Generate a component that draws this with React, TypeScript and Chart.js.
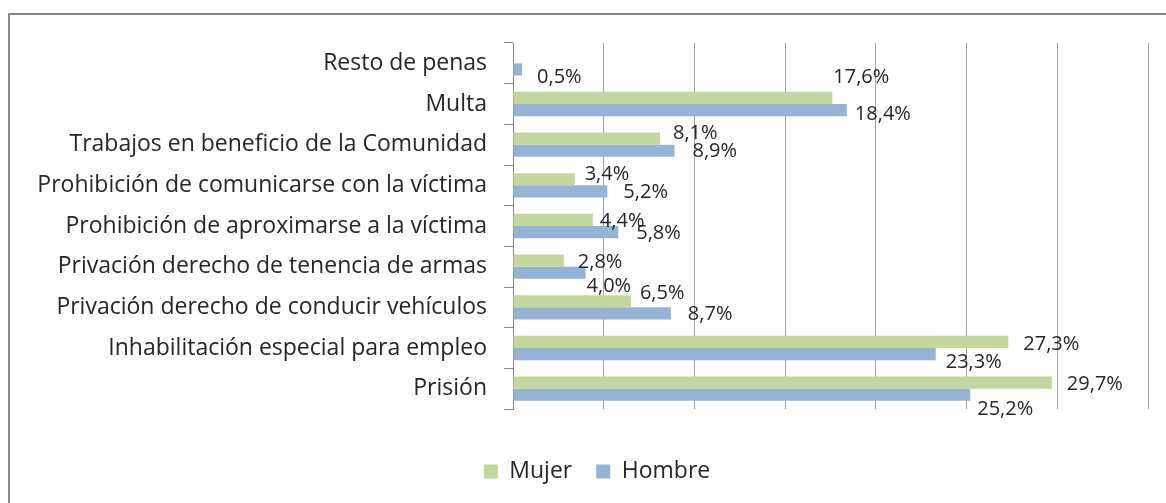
import React, { useEffect, useRef } from "react";
import { Chart, registerables } from "chart.js";

Chart.register(...registerables);

// Tipos de pena impuestos, porcentaje por sexo
const categories = [
  "Resto de penas",
  "Multa",
  "Trabajos en beneficio de la Comunidad",
  "Prohibición de comunicarse con la víctima",
  "Prohibición de aproximarse a la víctima",
  "Privación derecho de tenencia de armas",
  "Privación derecho de conducir vehículos",
  "Inhabilitación especial para empleo",
  "Prisión",
];

const mujer: (number | null)[] = [null, 17.6, 8.1, 3.4, 4.4, 2.8, 6.5, 27.3, 29.7];
const hombre: (number | null)[] = [0.5, 18.4, 8.9, 5.2, 5.8, 4.0, 8.7, 23.3, 25.2];

const seriesNames = ["Mujer", "Hombre"];
const xTicks = [0, 5, 10, 15, 20, 25, 30, 35];

// Desplazamientos [dx, dy] de cada etiqueta respecto al extremo de su barra
const labelNudgeMujer: [number, number][] = [
  [0, 0], [1, -21], [13, -5], [10, -5], [7, 1], [14, 2], [9, -8], [15, 2], [15, 2],
];
const labelNudgeHombre: [number, number][] = [
  [15, 8], [8, 4], [18, 1], [16, 1], [18, 1], [1, 14], [17, 1], [10, 8], [7, 15],
];

const FONT = "'Open Sans', 'Noto Sans', sans-serif";
const TEXT = "#262626";
const AXIS_X = 513;
const LEGEND_SHIFT = 23;

const fmt = (v: number) => v.toFixed(1).replace(".", ",") + "%";

// Etiquetas de valor junto al extremo de cada barra
const valueLabels = {
  id: "valueLabels",
  afterDatasetsDraw(chart: any) {
    const { ctx } = chart;
    ctx.save();
    ctx.font = `20px ${FONT}`;
    ctx.fillStyle = TEXT;
    ctx.textAlign = "left";
    ctx.textBaseline = "middle";
    chart.data.datasets.forEach((ds: any, di: number) => {
      const meta = chart.getDatasetMeta(di);
      const nudges = di === 0 ? labelNudgeMujer : labelNudgeHombre;
      meta.data.forEach((bar: any, i: number) => {
        const v = ds.data[i];
        if (v === null || v === undefined) return;
        const [dx, dy] = nudges[i];
        ctx.fillText(fmt(v), bar.x + dx, bar.y + dy);
      });
    });
    ctx.restore();
  },
};

// Centra la leyenda algo más a la derecha, bajo el área de barras
const legendShift = {
  id: "legendShift",
  afterLayout(chart: any) {
    const lg = chart.legend;
    if (lg) {
      lg.left += LEGEND_SHIFT;
      lg.right += LEGEND_SHIFT;
    }
  },
};

export default function App() {
  const ref = useRef<HTMLCanvasElement | null>(null);

  useEffect(() => {
    if (!ref.current) return;
    const chart = new Chart(ref.current, {
      type: "bar",
      data: {
        labels: categories,
        datasets: [
          {
            label: seriesNames[0],
            data: mujer,
            backgroundColor: "#C3D69B",
            categoryPercentage: 0.6,
            barPercentage: 1.0,
          },
          {
            label: seriesNames[1],
            data: hombre,
            backgroundColor: "#95B3D7",
            categoryPercentage: 0.6,
            barPercentage: 1.0,
          },
        ],
      },
      options: {
        indexAxis: "y",
        animation: false,
        responsive: false,
        maintainAspectRatio: false,
        layout: { padding: { top: 43, right: 18, left: 0, bottom: 10 } },
        scales: {
          x: {
            type: "linear",
            min: 0,
            max: 35,
            afterBuildTicks: (scale: any) => {
              scale.ticks = xTicks.map((v) => ({ value: v }));
            },
            afterFit: (scale: any) => {
              scale.height = 27;
            },
            ticks: { display: false },
            grid: { color: "#A0A0A0", lineWidth: 1, drawTicks: false },
            border: { display: false },
          },
          y: {
            afterFit: (scale: any) => {
              scale.width = AXIS_X;
            },
            ticks: {
              font: { family: FONT, size: 23 },
              color: TEXT,
              padding: 17,
              autoSkip: false,
            },
            grid: {
              drawOnChartArea: false,
              drawTicks: true,
              tickLength: 9,
              color: "#868686",
              offset: true,
            },
            border: { display: true, color: "#868686", width: 1 },
          },
        },
        plugins: {
          legend: {
            position: "bottom",
            labels: {
              boxWidth: 14,
              boxHeight: 14,
              padding: 24,
              color: TEXT,
              font: { family: FONT, size: 23 },
            },
          },
          tooltip: { enabled: false },
        },
      },
      plugins: [valueLabels, legendShift],
    });
    return () => chart.destroy();
  }, []);

  return (
    <div style={{ position: "fixed", left: 0, top: 0, width: 1166, height: 503, background: "#fff" }}>
      <div
        style={{
          position: "absolute",
          left: 8,
          top: 13,
          right: -4,
          bottom: -4,
          borderTop: "2px solid #878787",
          borderLeft: "2px solid #878787",
        }}
      />
      <canvas ref={ref} width={1166} height={503} style={{ position: "absolute", left: 0, top: 0 }} />
    </div>
  );
}
